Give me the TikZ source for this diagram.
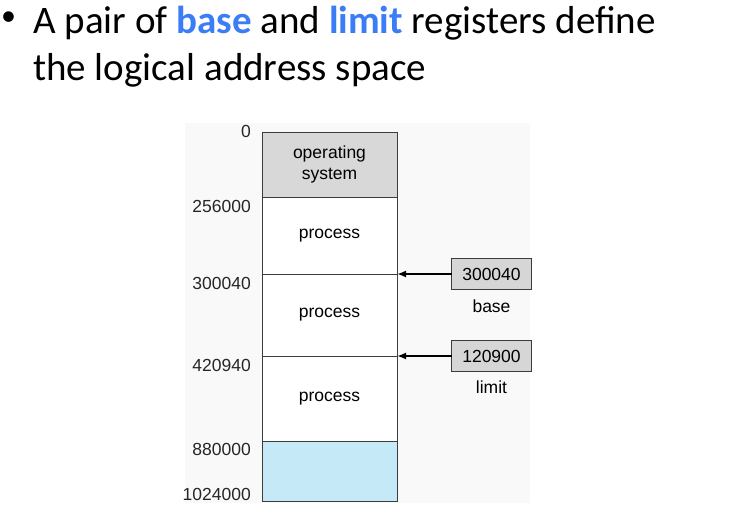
\documentclass[tikz,border=0pt]{standalone}
\usepackage{fontspec}
\setmainfont{Liberation Sans}
\newfontfamily\titlefont{Carlito}
\usetikzlibrary{arrows.meta}
\definecolor{ttlblue}{RGB}{59,125,245}
\definecolor{osgrey}{RGB}{216,216,216}
\definecolor{reggrey}{RGB}{214,214,214}
\definecolor{freeblue}{RGB}{198,233,248}
\definecolor{bggrey}{RGB}{249,249,249}
\definecolor{edge}{RGB}{60,60,60}
\tikzset{
  mem/.style={draw=edge, line width=0.9pt, minimum width=135pt, anchor=north west, inner sep=0pt, outer sep=0pt, align=center, font=\fontsize{17.5}{19}\selectfont},
  addr/.style={anchor=east, inner sep=0pt, font=\fontsize{17.5}{19}\selectfont, text=black!85},
  reg/.style={draw=edge, line width=0.9pt, fill=reggrey, minimum width=80pt, minimum height=31pt, inner sep=0pt, outer sep=0pt, font=\fontsize{17.5}{19}\selectfont},
  reglabel/.style={inner sep=0pt, font=\fontsize{17.5}{19}\selectfont},
  ptr/.style={line width=1.8pt, -{Latex[length=9pt,width=7pt]}},
  ttl/.style={anchor=base west, inner sep=0pt, font=\titlefont\fontsize{39}{46}\selectfont},
}
\begin{document}
\begin{tikzpicture}[x=1pt,y=-1pt]
\useasboundingbox (0,0) rectangle (741,530);
% title
\node[inner sep=0pt, font=\titlefont\fontsize{30}{32}\selectfont] (bul) at (8.5,19) {•};
\node[ttl] (t1) at (33,33) {A pair of \textcolor{ttlblue}{\bfseries base} and \textcolor{ttlblue}{\bfseries limit} registers define};
\node[ttl] (t2) at (33,80) {the logical address space};
% figure background
\fill[bggrey] (185,123) rectangle (530,503);
% memory
\node[mem, fill=osgrey, minimum height=65pt] (os) at (262,132) {operating\\[2pt]system};
\node[mem, fill=white, minimum height=77pt] (p1) at (262,197) {process};
\node[mem, fill=white, minimum height=82pt] (p2) at (262,274) {process};
\node[mem, fill=white, minimum height=85pt] (p3) at (262,356) {process};
\node[mem, fill=freeblue, minimum height=60pt] (free) at (262,441) {};
% addresses
\node[addr] (a0) at (251,131) {0};
\node[addr] (a1) at (251,206) {256000};
\node[addr] (a2) at (251,283) {300040};
\node[addr] (a3) at (251,365) {420940};
\node[addr] (a4) at (251,449) {880000};
\node[addr] (a5) at (251,494) {1024000};
% registers
\node[reg] (base) at (491.5,274) {300040};
\node[reglabel] (baselbl) at (491.5,306.5) {base};
\node[reg] (limit) at (491.5,356) {120900};
\node[reglabel] (limitlbl) at (491.5,387) {limit};
\draw[ptr] (base.west) -- (base.west -| p2.east);
\draw[ptr] (limit.west) -- (limit.west -| p3.east);
\end{tikzpicture}
\end{document}
